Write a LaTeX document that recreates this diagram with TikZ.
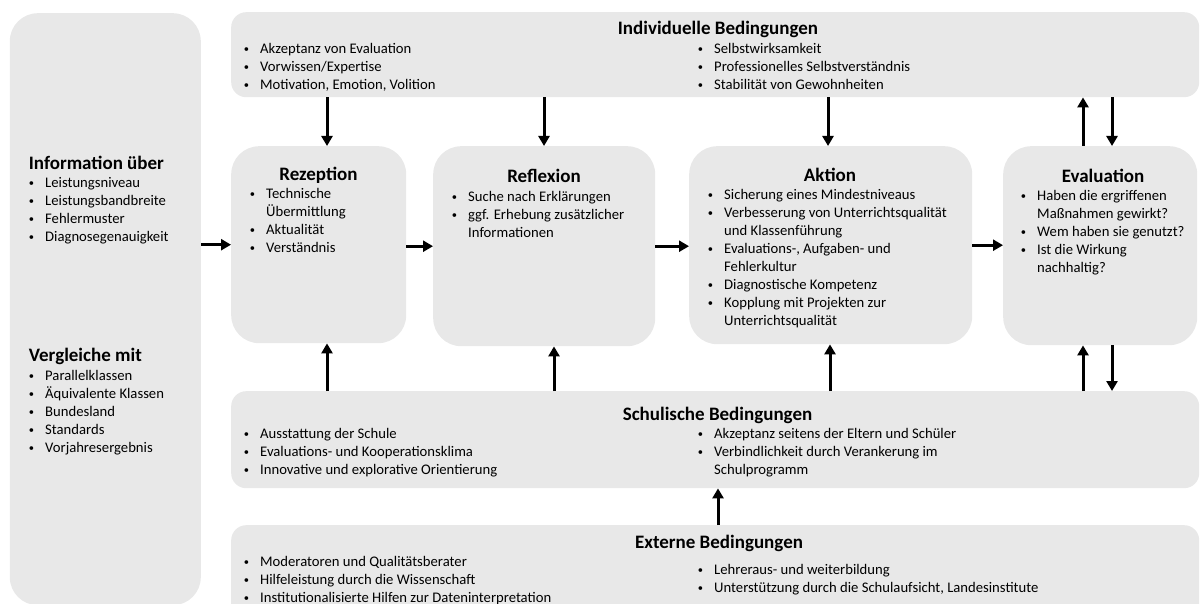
\documentclass[tikz,border=0pt]{standalone}
\usepackage{fontspec}
\setmainfont{Carlito}
\usetikzlibrary{arrows.meta}
\definecolor{boxgray}{RGB}{232,232,232}
\newcommand\bi{\makebox[17pt][l]{\hspace{0.6pt}\raisebox{1.3pt}{\fontsize{10.5}{10.5}\selectfont\textbullet}}&}
\newcommand\blist[1]{\begin{tabular}[t]{@{}l@{}l@{}}#1\end{tabular}}
\tikzset{
  box/.style={fill=boxgray, draw=none, rounded corners=28pt, inner sep=0pt, anchor=north west},
  bbox/.style={box, rounded corners=15pt},
  ttl/.style={font=\fontsize{19}{22}\selectfont\bfseries, inner sep=0pt, anchor=base},
  lst/.style={font=\fontsize{14.67}{18}\selectfont, inner sep=0pt, anchor=base west},
  arr/.style={line width=3pt, -{Triangle[length=10pt,width=11pt]}}
}
\begin{document}
\begin{tikzpicture}[x=1pt,y=-1pt]
\useasboundingbox (0,0) rectangle (1202,604);
% boxes
\node[box, minimum width=191pt, minimum height=592pt] (info) at (9.6,13) {};
\node[bbox, minimum width=968pt, minimum height=85pt] (ind) at (231,12) {};
\node[box, minimum width=175pt, minimum height=197pt] (rez) at (231,146) {};
\node[box, minimum width=222pt, minimum height=200pt] (refl) at (433,146) {};
\node[box, minimum width=283pt, minimum height=198pt] (akt) at (689,146) {};
\node[box, minimum width=194pt, minimum height=199pt] (eval) at (1003,146) {};
\node[bbox, minimum width=968pt, minimum height=97pt] (schul) at (231,391) {};
\node[bbox, minimum width=968pt, minimum height=100pt] (ext) at (231,525) {};
% titles
\node[ttl] (tind) at (718,34.5) {Individuelle Bedingungen};
\node[ttl, anchor=base west] (tinfo) at (28.7,169.5) {Information über};
\node[ttl, anchor=base west] (tverg) at (28.7,361.5) {Vergleiche mit};
\node[ttl] (trez) at (318.5,180.5) {Rezeption};
\node[ttl] (trefl) at (544,182.5) {Reflexion};
\node[ttl] (takt) at (830,181.5) {Aktion};
\node[ttl] (teval) at (1103,182.5) {Evaluation};
\node[ttl] (tschul) at (717.5,420.5) {Schulische Bedingungen};
\node[ttl] (tex) at (719,548.5) {Externe Bedingungen};
% lists
\node[lst] (linfo) at (28,187.5) {\blist{\bi Leistungsniveau\\ \bi Leistungsbandbreite\\ \bi Fehlermuster\\ \bi Diagnosegenauigkeit}};
\node[lst] (lverg) at (28,380.5) {\blist{\bi Parallelklassen\\ \bi Äquivalente Klassen\\ \bi Bundesland\\ \bi Standards\\ \bi Vorjahresergebnis}};
\node[lst] (lindl) at (243,53.5) {\blist{\bi Akzeptanz von Evaluation\\ \bi Vorwissen/Expertise\\ \bi Motivation, Emotion, Volition}};
\node[lst] (lindr) at (697,53.5) {\blist{\bi Selbstwirksamkeit\\ \bi Professionelles Selbstverständnis\\ \bi Stabilität von Gewohnheiten}};
\node[lst] (lrez) at (249,198.5) {\blist{\bi Technische\\ & Übermittlung\\ \bi Aktualität\\ \bi Verständnis}};
\node[lst] (lrefl) at (451,201.5) {\blist{\bi Suche nach Erklärungen\\ \bi ggf. Erhebung zusätzlicher\\ & Informationen}};
\node[lst] (lakt) at (707,199.5) {\blist{\bi Sicherung eines Mindestniveaus\\ \bi Verbesserung von Unterrichtsqualität\\ & und Klassenführung\\ \bi Evaluations-, Aufgaben- und\\ & Fehlerkultur\\ \bi Diagnostische Kompetenz\\ \bi Kopplung mit Projekten zur\\ & Unterrichtsqualität}};
\node[lst] (leval) at (1020,200.5) {\blist{\bi Haben die ergriffenen\\ & Maßnahmen gewirkt?\\ \bi Wem haben sie genutzt?\\ \bi Ist die Wirkung\\ & nachhaltig?}};
\node[lst] (lschull) at (243,438.5) {\blist{\bi Ausstattung der Schule\\ \bi Evaluations- und Kooperationsklima\\ \bi Innovative und explorative Orientierung}};
\node[lst] (lschulr) at (697,438.5) {\blist{\bi Akzeptanz seitens der Eltern und Schüler\\ \bi Verbindlichkeit durch Verankerung im\\ & Schulprogramm}};
\node[lst] (lextl) at (243,566.5) {\blist{\bi Moderatoren und Qualitätsberater\\ \bi Hilfeleistung durch die Wissenschaft\\ \bi Institutionalisierte Hilfen zur Dateninterpretation}};
\node[lst] (lextr) at (697,574.5) {\blist{\bi Lehreraus- und weiterbildung\\ \bi Unterstützung durch die Schulaufsicht, Landesinstitute}};
% connector x positions
\coordinate (v1) at (327,0);
\coordinate (v2) at (544,0);
\coordinate (v3) at (828,0);
\coordinate (v4) at (1083,0);
\coordinate (v5) at (1112,0);
\coordinate (v6) at (554,0);
\coordinate (v7) at (830,0);
\coordinate (v8) at (718,0);
% horizontal arrows
\draw[arr] (info.east |- rez.west) -- (rez.west);
\draw[arr] (rez.east |- refl.west) -- (refl.west);
\draw[arr] (refl.east) -- (akt.west |- refl.east);
\draw[arr] (akt.east) -- (eval.west |- akt.east);
% vertical arrows
\draw[arr] (ind.south -| v1) -- (rez.north -| v1);
\draw[arr] (ind.south -| v2) -- (refl.north -| v2);
\draw[arr] (ind.south -| v3) -- (akt.north -| v3);
\draw[arr] (eval.north -| v4) -- (ind.south -| v4);
\draw[arr] (ind.south -| v5) -- (eval.north -| v5);
\draw[arr] (schul.north -| v1) -- (rez.south -| v1);
\draw[arr] (schul.north -| v6) -- (refl.south -| v6);
\draw[arr] (schul.north -| v7) -- (akt.south -| v7);
\draw[arr] (schul.north -| v4) -- (eval.south -| v4);
\draw[arr] (eval.south -| v5) -- (schul.north -| v5);
\draw[arr] (ext.north -| v8) -- (schul.south -| v8);
\end{tikzpicture}
\end{document}
